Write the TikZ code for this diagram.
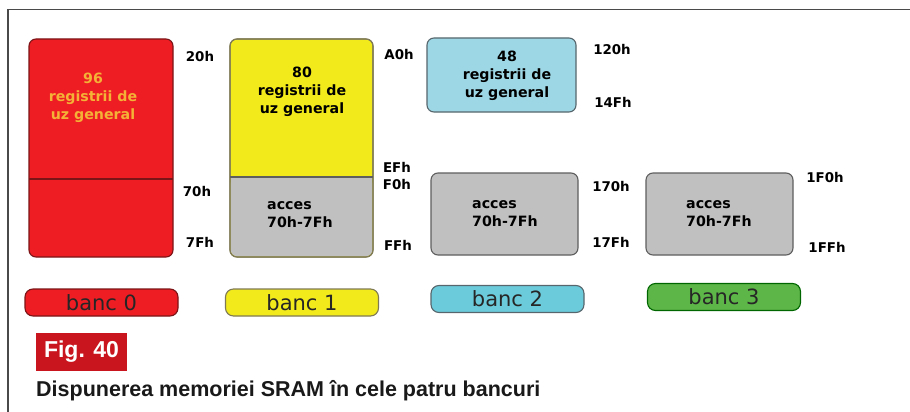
\documentclass[tikz,border=0pt]{standalone}
\usepackage{fontspec}
\setmainfont{DejaVu Sans}
\newfontfamily\capfont{Liberation Sans}
\usepackage{xcolor}
\usepackage{tikz}
\usetikzlibrary{positioning}

\definecolor{redfill}{HTML}{EE1D24}
\definecolor{redline}{HTML}{7B1416}
\definecolor{ylwfill}{HTML}{F2EA1B}
\definecolor{ylwline}{HTML}{7F7A55}
\definecolor{cyanfill}{HTML}{9DD7E5}
\definecolor{cyanline}{HTML}{56666C}
\definecolor{accfill}{HTML}{C0C0C0}
\definecolor{accline}{HTML}{5E5E5E}
\definecolor{banccyan}{HTML}{6BCBDA}
\definecolor{bancgreen}{HTML}{5DB648}
\definecolor{figred}{HTML}{C9161E}
\definecolor{gprtext}{HTML}{F4B236}
\definecolor{framegray}{HTML}{4A4A4A}

\begin{document}
\begin{tikzpicture}[x=1pt, y=-1pt,
  membox/.style={draw=#1, rounded corners=7pt, line width=1.1pt, inner sep=0pt},
  bancbox/.style={draw=#1, rounded corners=8pt, line width=1.1pt, inner sep=0pt, minimum width=153pt, minimum height=27pt, text=black!85, font=\fontsize{21}{21}\selectfont},
  boxtext/.style={inner sep=0pt, font=\bfseries\fontsize{14.2}{18}\selectfont, align=center},
  addr/.style={inner sep=0pt, font=\bfseries\fontsize{13.4}{16}\selectfont}]
\useasboundingbox (0,0) rectangle (910,412);
\draw[line width=1.5pt, framegray] (8,412) -- (8,9.5) -- (910,9.5);

% bank 0
\node[membox=redline, fill=redfill, minimum width=144pt, minimum height=218pt] (gpr0) at (101,148) {};
\coordinate (div0w) at (29,179);
\coordinate (div0e) at (173,179);
\draw[redline, line width=1.2pt] (div0w) -- (div0e);
\node[boxtext, text=gprtext] (gpr0txt) at (93,98) {96\\registrii de\\uz general};
\node[addr] (a20) at (200,57) {20h};
\node[addr] (a70) at (197,192) {70h};
\node[addr] (a7f) at (200,242) {7Fh};

% bank 1
\node[membox=ylwline, fill=ylwfill, minimum width=143pt, minimum height=218pt] (gpr1) at (301.5,148) {};
\fill[accfill, rounded corners=7pt] (230.6,177) rectangle (372.4,256.4);
\fill[accfill] (230.6,177) rectangle (372.4,190);
\node[membox=ylwline, minimum width=143pt, minimum height=218pt] (gpr1frame) at (301.5,148) {};
\coordinate (div1w) at (230,177);
\coordinate (div1e) at (373,177);
\draw[accline, line width=1.1pt] (div1w) -- (div1e);
\node[boxtext] (gpr1txt) at (302,92) {80\\registrii de\\uz general};
\node[boxtext, align=left, anchor=west] (acc1txt) at (267,215) {acces\\70h-7Fh};
\node[addr] (aa0) at (399,55) {A0h};
\node[addr] (aef) at (397,167) {EFh};
\node[addr] (af0) at (397,185) {F0h};
\node[addr] (aff) at (398,245) {FFh};

% bank 2
\node[membox=cyanline, fill=cyanfill, minimum width=149pt, minimum height=74pt] (gpr2) at (501.5,75) {};
\node[boxtext] (gpr2txt) at (507,76) {48\\registrii de\\uz general};
\node[membox=accline, fill=accfill, minimum width=147pt, minimum height=82pt] (acc2) at (504.5,214) {};
\node[boxtext, align=left, anchor=west] (acc2txt) at (472,214) {acces\\70h-7Fh};
\node[addr] (a120) at (612,50) {120h};
\node[addr] (a14f) at (613,102) {14Fh};
\node[addr] (a170) at (611,187) {170h};
\node[addr] (a17f) at (611,242) {17Fh};

% bank 3
\node[membox=accline, fill=accfill, minimum width=147pt, minimum height=82pt] (acc3) at (719.5,214) {};
\node[boxtext, align=left, anchor=west] (acc3txt) at (686,214) {acces\\70h-7Fh};
\node[addr] (a1f0) at (825,178) {1F0h};
\node[addr] (a1ff) at (827,247) {1FFh};

% legend
\node[bancbox=redline, fill=redfill] (banc0) at (101.5,302.5) {banc 0};
\node[bancbox=ylwline, fill=ylwfill] (banc1) at (302,302.5) {banc 1};
\node[bancbox=cyanline, fill=banccyan] (banc2) at (507.5,299) {banc 2};
\node[bancbox=black!60!green, fill=bancgreen] (banc3) at (724,297) {banc 3};

% caption
\node[fill=figred, text=white, inner sep=0pt, minimum width=91pt, minimum height=38pt, font=\capfont\bfseries\fontsize{23}{24}\selectfont] (fig) at (81.5,352) {Fig. 40};
\node[anchor=base west, inner sep=0pt, text=black!90, font=\capfont\bfseries\fontsize{21.5}{24}\selectfont] (caption) at (36,396) {Dispunerea memoriei SRAM în cele patru bancuri};
\end{tikzpicture}
\end{document}
